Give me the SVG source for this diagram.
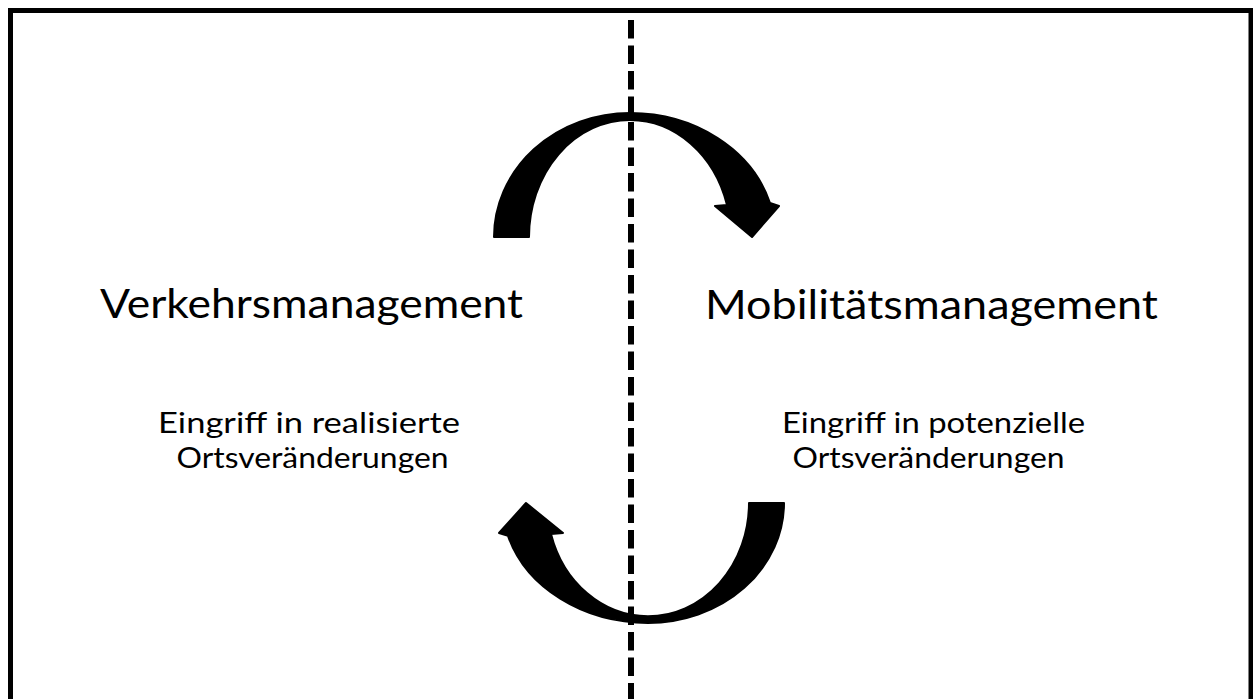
<svg xmlns="http://www.w3.org/2000/svg" width="1253" height="699" viewBox="0 0 1253 699">
<style>
.title{font-family:Lato,"Open Sans","Liberation Sans",sans-serif;font-size:41px;fill:#000}
.sub{font-family:Lato,"Open Sans","Liberation Sans",sans-serif;font-size:29px;fill:#000}
.arrow{fill:#000;stroke:#000;stroke-width:2;stroke-linejoin:round}
</style>
<defs>
<path id="curved" d="M494,237 A136,124 0 0 1 630,113 A145.5,124 0 0 1 770,203 L779,206 L752,237 L715,206 L727,205 A101,117 0 0 0 630,120 A101,117 0 0 0 529,237 Z"/>
</defs>
<rect x="0" y="0" width="1253" height="699" fill="#fff"/>
<rect id="frame" x="10.5" y="10.5" width="1240.5" height="720" fill="none" stroke="#000" stroke-width="5"/>
<g id="connectors">
<line id="divider" x1="631" y1="13" x2="631" y2="699" stroke="#000" stroke-width="6" stroke-dasharray="18.5 7" stroke-dashoffset="18.5"/>
<use href="#curved" class="arrow"/>
<use href="#curved" class="arrow" transform="matrix(-1 0 0 -0.968 1278 732.4)"/>
</g>
<g id="verkehrsmanagement">
<text class="title" x="100" y="318" textLength="423" lengthAdjust="spacingAndGlyphs">Verkehrsmanagement</text>
<text class="sub" x="158" y="433" textLength="302" lengthAdjust="spacingAndGlyphs">Eingriff in realisierte</text>
<text class="sub" x="176.5" y="468" textLength="272" lengthAdjust="spacingAndGlyphs">Ortsveränderungen</text>
</g>
<g id="mobilitaetsmanagement">
<text class="title" x="705" y="319" textLength="453" lengthAdjust="spacingAndGlyphs">Mobilitätsmanagement</text>
<text class="sub" x="782" y="433" textLength="303" lengthAdjust="spacingAndGlyphs">Eingriff in potenzielle</text>
<text class="sub" x="792.5" y="468" textLength="272" lengthAdjust="spacingAndGlyphs">Ortsveränderungen</text>
</g>
</svg>
